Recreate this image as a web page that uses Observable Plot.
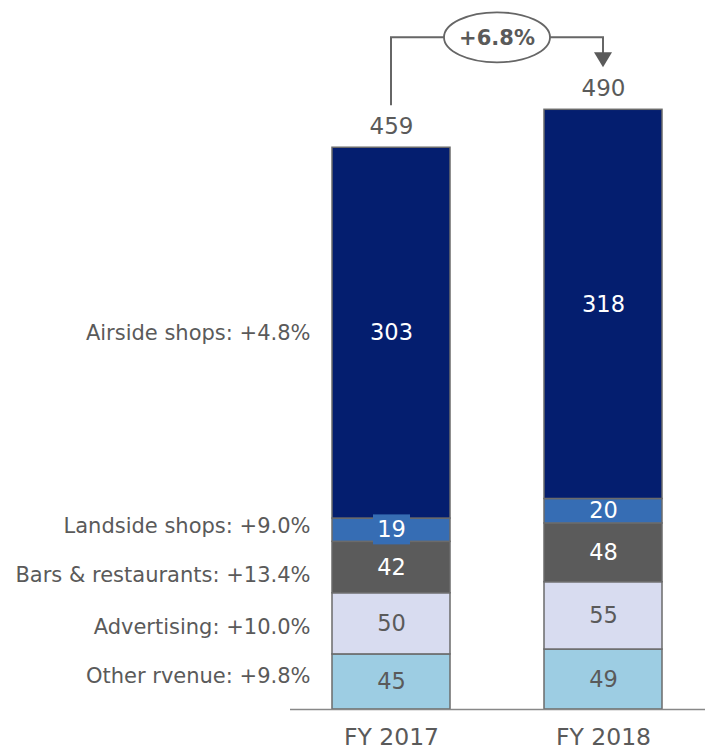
<!DOCTYPE html>
<html>
<head>
<meta charset="utf-8">
<script src="https://cdn.jsdelivr.net/npm/d3@7"></script>
<script src="https://cdn.jsdelivr.net/npm/@observablehq/plot@0.6"></script>
<style>
  html, body { margin: 0; padding: 0; background: #fff; }
  #chart svg { display: block; }
</style>
</head>
<body>
<div id="chart"></div>
<script>
// ---- data ----
const years = ["FY 2017", "FY 2018"];
const segments = ["Other rvenue", "Advertising", "Bars & restaurants", "Landside shops", "Airside shops"];
const growth = ["+9.8%", "+10.0%", "+13.4%", "+9.0%", "+4.8%"];
const fy2017 = [45, 50, 42, 19, 303];
const fy2018 = [49, 55, 48, 20, 318];
const totals = [459, 490];
const totalGrowth = "+6.8%";

// ---- styles ----
const colors = ["#9DCDE3", "#D8DCF0", "#5B5B5B", "#366DB4", "#041E6F"];
const darkSegments = new Set(["Bars & restaurants", "Landside shops", "Airside shops"]);
const labelDy = [-6, 3, 8, -4, 0];
const FONT = "'DejaVu Sans', sans-serif";
const GREY = "#5a5a5a";

// ---- table ----
const rows = [];
[fy2017, fy2018].forEach((vals, yi) => {
  let acc = 0;
  vals.forEach((v, si) => {
    rows.push({year: years[yi], segment: segments[si], value: v, y1: acc, y2: acc + v, si});
    acc += v;
  });
});
const rows2017 = rows.filter(d => d.year === years[0]);

function annotation(index, scales, values, dims) {
  const x = scales.x, y = scales.y;
  const bw = x.bandwidth();
  const xa = x(years[0]) + bw / 2, xb = x(years[1]) + bw / 2;
  const level = y(Math.max(...totals)) - 72;
  const ya = y(totals[0]) - 42, yb = y(totals[1]) - 42;
  const cx = (xa + xb) / 2, rx = 53, ry = 25;
  const g = d3.create("svg:g");
  g.append("path")
    .attr("d", `M${xa},${ya}V${level}H${cx - rx}M${cx + rx},${level}H${xb}V${yb - 14}`)
    .attr("fill", "none").attr("stroke", "#666").attr("stroke-width", 2);
  g.append("path")
    .attr("d", `M${xb - 9},${yb - 15}L${xb + 9},${yb - 15}L${xb},${yb}Z`)
    .attr("fill", "#5a5a5a");
  g.append("ellipse")
    .attr("cx", cx).attr("cy", level).attr("rx", rx).attr("ry", ry)
    .attr("fill", "#fff").attr("stroke", "#666").attr("stroke-width", 1.8);
  g.append("text")
    .attr("x", cx).attr("y", level).attr("dy", "0.36em")
    .attr("text-anchor", "middle").attr("font-weight", "bold")
    .attr("font-size", 21).attr("font-family", FONT).attr("fill", GREY)
    .text(totalGrowth);
  return g.node();
}

const chart = Plot.plot({
  width: 706,
  height: 754,
  marginLeft: 290,
  marginRight: 1,
  marginTop: 0,
  marginBottom: 45,
  style: {fontFamily: FONT, background: "#fff"},
  x: {domain: years, paddingInner: 0.443, paddingOuter: 0.2, label: null},
  y: {domain: [0, 579.3], axis: null},
  color: {domain: segments, range: colors},
  marks: [
    Plot.barY(rows, {x: "year", y1: "y1", y2: "y2", fill: "segment", stroke: "#6b6b6b", strokeWidth: 1.5}),
    Plot.barY(rows.filter(d => d.year === years[0] && d.segment === "Landside shops"),
      {x: "year", y1: d => d.y1 - 2.5, y2: d => d.y2 + 3, fill: "#366DB4", insetLeft: 41, insetRight: 40}),
    Plot.ruleY([0], {stroke: "#888", strokeWidth: 1.5}),
    Plot.axisX({tickSize: 0, tickPadding: 19, fontSize: 23.5, fill: GREY}),
    Plot.text(rows.filter(d => darkSegments.has(d.segment)),
      {x: "year", y: d => (d.y1 + d.y2) / 2, text: "value", fill: "#fff", fontSize: 22.5}),
    Plot.text(rows.filter(d => !darkSegments.has(d.segment)),
      {x: "year", y: d => (d.y1 + d.y2) / 2, text: "value", fill: GREY, fontSize: 22.5}),
    Plot.text(years.map((yr, i) => ({year: yr, total: totals[i]})),
      {x: "year", y: "total", text: d => String(d.total), dy: -21, fill: GREY, fontSize: 23}),
    ...rows2017.map((d, i) => Plot.text([d],
      {x: "year", y: r => (r.y1 + r.y2) / 2, text: r => `${r.segment}: ${growth[r.si]}`,
       textAnchor: "end", dx: -81, dy: labelDy[i], fill: GREY, fontSize: 21})),
    annotation
  ]
});
document.getElementById("chart").appendChild(chart);
</script>
</body>
</html>
